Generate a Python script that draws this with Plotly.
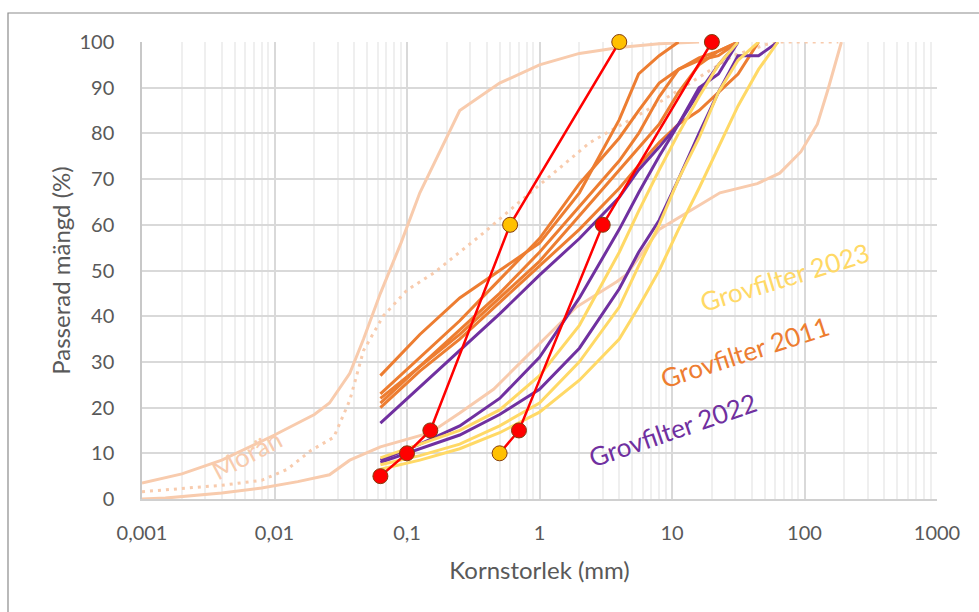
import math
import plotly.graph_objects as go

# Grain size distribution curves (grain size in mm, passing in %)
sieves = [0.063, 0.125, 0.25, 0.5, 1, 2, 4, 5.6, 8, 11.2, 16, 22.4, 31.5, 45, 63]

# Moraine (Morän) envelope and typical curve
moran_fine_x = [0.001, 0.002, 0.004, 0.006, 0.01, 0.02, 0.026, 0.037, 0.047, 0.063, 0.09,
                0.125, 0.25, 0.5, 1, 2, 4, 8, 16]
moran_fine_y = [3.5, 5.5, 8.5, 11, 14, 18.5, 21, 27.5, 35, 45, 56,
                67, 85, 91, 95, 97.5, 98.8, 99.6, 100]
moran_mid_x = [0.001, 0.002, 0.004, 0.008, 0.0125, 0.019, 0.028, 0.037, 0.047, 0.066, 0.1,
               0.16, 0.37, 0.85, 2.4, 6.4, 12, 29, 52, 63, 180]
moran_mid_y = [1.6, 2.3, 3.0, 4.1, 6.5, 10.7, 13.5, 21.6, 32.5, 40, 45.7,
               49.5, 58, 67, 78, 85, 90, 97, 99.5, 100, 100]
moran_coarse_x = [0.001, 0.0015, 0.004, 0.008, 0.015, 0.026, 0.037, 0.063, 0.15, 0.25, 0.45,
                  1, 1.9, 3.8, 4.5, 8, 13.6, 23, 44, 65, 94, 125, 150, 190]
moran_coarse_y = [0, 0.2, 1.3, 2.4, 3.8, 5.3, 8.5, 11.4, 14.5, 18.8, 24,
                  34, 42, 47.5, 49, 59, 63, 67, 69, 71.3, 76, 82, 89.5, 100]

# Grovfilter 2011 samples
gf2011 = [
    [27, 36, 44, 50, 56, 67, 83, 93, 97, 100],
    [23, 31, 39, 48, 57, 69, 79, 85, 91, 94, 96, 97, 100],
    [22, 29, 37, 45, 54, 64, 74, 80, 88, 94, 96.5, 98, 100],
    [21, 29, 36, 44, 52, 62, 72, 77, 82, 89, 95, 98, 100],
    [20, 28, 35, 43, 51, 59, 68, 73, 78, 82, 85, 89, 93, 100],
]

# Grovfilter 2022 samples
gf2022 = [
    [16.6, 24.5, 32.5, 40.5, 49, 57, 66, 72, 77, 82, 90, 93, 100],
    [8.5, 12, 16, 22, 31, 44, 59, 67, 75, 82, 89, 95, 100],
    [8, 11, 14, 18.5, 24, 33, 46, 54, 61, 70, 80, 89, 97, 97, 100],
]

# Grovfilter 2023 samples
gf2023 = [
    [9, 12, 15, 19.5, 27, 38, 54, 63, 72, 80, 88, 95, 100],
    [7.5, 9.5, 12, 16, 21, 30, 42, 51, 60, 70, 79, 89, 96, 100],
    [6.5, 8.5, 11, 14.5, 19, 26, 35, 42, 50, 59, 68, 77, 86, 94, 100],
]

# Filter criteria boundaries with point markers
crit_fine_x = [0.063, 0.1, 0.15, 0.6, 4]
crit_fine_y = [5, 10, 15, 60, 100]
crit_fine_fill = ["#FF0000", "#FF0000", "#FF0000", "#FFC000", "#FFC000"]
crit_coarse_x = [0.5, 0.7, 3, 20]
crit_coarse_y = [10, 15, 60, 100]
crit_coarse_fill = ["#FFC000", "#FF0000", "#FF0000", "#FF0000"]

x_tick_vals = [0.001, 0.01, 0.1, 1, 10, 100, 1000]
x_tick_text = ["0,001", "0,01", "0,1", "1", "10", "100", "1000"]
y_tick_vals = list(range(0, 101, 10))

PEACH = "#F8CBAD"
ORANGE = "#ED7D31"
PURPLE = "#7030A0"
YELLOW = "#FFD966"
RED = "#FF0000"

fig = go.Figure()


def add_line(x, y, color, width=3, dash=None):
    fig.add_trace(go.Scatter(x=x, y=y, mode="lines",
                             line=dict(color=color, width=width, dash=dash),
                             hoverinfo="skip", showlegend=False))


add_line(moran_fine_x, moran_fine_y, PEACH)
add_line(moran_mid_x, moran_mid_y, PEACH, width=3, dash="3px,5px")
add_line(moran_coarse_x, moran_coarse_y, PEACH)

for ys in gf2011:
    add_line(sieves[:len(ys)], ys, ORANGE)
for ys in gf2022:
    add_line(sieves[:len(ys)], ys, PURPLE)
for ys in gf2023:
    add_line(sieves[:len(ys)], ys, YELLOW)

for xs, ys, fills in [(crit_fine_x, crit_fine_y, crit_fine_fill),
                      (crit_coarse_x, crit_coarse_y, crit_coarse_fill)]:
    fig.add_trace(go.Scatter(
        x=xs, y=ys, mode="lines+markers", cliponaxis=False,
        line=dict(color=RED, width=2.5),
        marker=dict(size=15, color=fills, line=dict(color="#843C0C", width=1)),
        hoverinfo="skip", showlegend=False))

minor_vals = [m * 10 ** d for d in range(-3, 3) for m in range(2, 10)]

FONT = "Lato"
TXT = "#595959"
fig.update_xaxes(
    type="log", range=[-3, 3],
    tickvals=x_tick_vals, ticktext=x_tick_text,
    showgrid=True, gridcolor="#D9D9D9", gridwidth=1.5,
    minor=dict(tickvals=minor_vals, showgrid=True, gridcolor="#EFEFEF", gridwidth=1.5, ticks=""),
    showline=True, linecolor="#D0D0D0", linewidth=1.5, mirror=False,
    zeroline=False, ticks="", ticklabelstandoff=15,
    tickfont=dict(family=FONT, size=20, color=TXT),
    title=dict(text="Kornstorlek (mm)", font=dict(family=FONT, size=24, color=TXT), standoff=19),
)
fig.update_yaxes(
    range=[0, 100], tickvals=y_tick_vals,
    showgrid=True, gridcolor="#D9D9D9", gridwidth=1.5,
    showline=True, linecolor="#C8C8C8", linewidth=1.5,
    zeroline=False, ticks="", ticklabelstandoff=22,
    tickfont=dict(family=FONT, size=20, color=TXT),
    title=dict(text="Passerad mängd (%)", font=dict(family=FONT, size=24, color=TXT), standoff=2),
)

labels = [
    ("Grovfilter 2023", 71, 48.6, YELLOW, -17),
    ("Grovfilter 2011", 35.5, 32.2, ORANGE, -18),
    ("Grovfilter 2022", 10, 15.1, PURPLE, -19),
    ("Morän", 0.0062, 9.8, PEACH, -28),
]
for text, xv, yv, col, ang in labels:
    fig.add_annotation(x=math.log10(xv), y=yv, xref="x", yref="y", text=text,
                       showarrow=False, textangle=ang,
                       font=dict(family=FONT, size=26, color=col),
                       xanchor="center", yanchor="middle")

W, H = 979, 612
ML, MR, MT, MB = 142, 42, 42, 113
pw, ph = W - ML - MR, H - MT - MB
# Outer chart frame
fig.add_shape(type="rect", xref="paper", yref="paper",
              x0=(8 - ML) / pw, x1=(W + 10 - ML) / pw,
              y0=(H - MB - (H + 10)) / ph, y1=(H - MB - 13) / ph,
              line=dict(color="#8C8C8C", width=1.2), fillcolor="rgba(0,0,0,0)", layer="below")

fig.update_layout(
    width=W, height=H,
    margin=dict(l=ML, r=MR, t=MT, b=MB),
    paper_bgcolor="white", plot_bgcolor="white",
    showlegend=False,
)

fig.write_html("out.html")
